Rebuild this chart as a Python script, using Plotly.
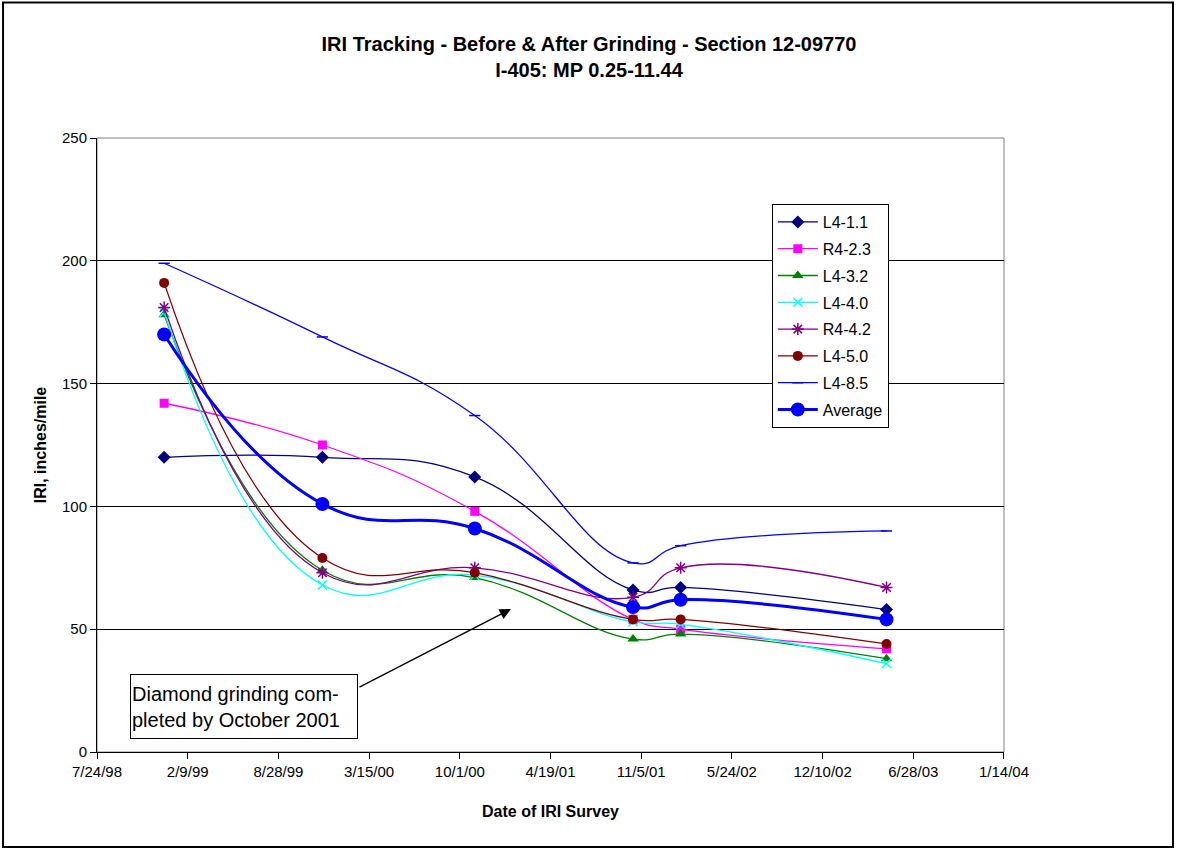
import plotly.graph_objects as go

# survey dates
dates = ["1998-12-19", "1999-12-03", "2000-11-03", "2001-10-18", "2002-01-31", "2003-04-30"]

l4_11 = [120, 120, 112, 66, 67, 58]
r4_23 = [142, 125, 98, 54, 50, 42]
l4_32 = [178, 74, 71, 46, 48, 38]
l4_40 = [179, 68, 72, 53, 52, 36]
r4_42 = [181, 73, 75, 63, 75, 67]
l4_50 = [191, 79, 73, 54, 54, 44]
l4_85 = [199, 169, 137, 77, 84, 90]
average = [170, 101, 91, 59, 62, 54]

series = [
    ("L4-1.1", l4_11, "#000080", "diamond", 10),
    ("R4-2.3", r4_23, "#FF00FF", "square", 9),
    ("L4-3.2", l4_32, "#008000", "triangle-up", 10),
    ("L4-4.0", l4_40, "#00FFFF", "x-thin-open", 9),
    ("R4-4.2", r4_42, "#800080", "asterisk-open", 10),
    ("L4-5.0", l4_50, "#800000", "circle", 10),
    ("L4-8.5", l4_85, "#0000FF", "line-ew-open", 8),
]

FONT = "Liberation Sans, Arial, sans-serif"

fig = go.Figure()

for name, vals, color, sym, size in series:
    open_marker = sym.endswith("-open")
    fig.add_trace(go.Scatter(
        x=dates, y=vals, name=name, legendgroup=name,
        mode="lines+markers",
        line=dict(color=color, width=1.3, shape="spline", smoothing=1.3),
        marker=dict(symbol=sym, size=size, color=color,
                    line=dict(color=color, width=1.5 if open_marker else 0)),
    ))

fig.add_trace(go.Scatter(
    x=dates, y=average, name="Average", legendgroup="Average",
    mode="lines+markers",
    line=dict(color="#0000FF", width=3, shape="spline", smoothing=1.3),
    marker=dict(symbol="circle", size=14, color="#0000FF"),
))

# plot area border (grey) under the axes
fig.add_shape(type="rect", xref="paper", yref="paper", x0=0, x1=1, y0=0, y1=1,
              line=dict(color="#808080", width=1), layer="below")
# chart border
fig.add_shape(type="rect", xref="paper", yref="paper",
              x0=-0.1036, x1=1.1863, y0=-0.1547, y1=1.2207,
              line=dict(color="black", width=2))

# callout box and arrow
fig.add_annotation(
    xref="paper", yref="paper", x=0.0364, y=0.127, xanchor="left", yanchor="top",
    text="Diamond grinding com-<br>pleted by October 2001",
    showarrow=False, align="left", width=224, height=61, borderpad=1,
    bordercolor="black", borderwidth=1, bgcolor="white",
    font=dict(family=FONT, size=20, color="black"),
)
fig.add_annotation(
    xref="paper", yref="paper", x=0.4564, y=0.2329, text="",
    showarrow=True, ax=-153, ay=79, arrowhead=2, arrowsize=1.6, arrowwidth=1.4,
    arrowcolor="black",
)

fig.update_layout(
    width=1178, height=849,
    margin=dict(l=97, r=174, t=138, b=97),
    paper_bgcolor="white", plot_bgcolor="white",
    font=dict(family=FONT, size=15, color="black"),
    title=dict(
        text="<b>IRI Tracking - Before & After Grinding - Section 12-09770<br>I-405: MP 0.25-11.44</b>",
        x=0.5, xanchor="center", y=0.94, yanchor="middle",
        font=dict(family=FONT, size=20, color="black"),
    ),
    showlegend=True,
    legend=dict(
        x=0.744, y=0.8925, xanchor="left", yanchor="top",
        bordercolor="black", borderwidth=1, bgcolor="white",
        font=dict(family=FONT, size=16, color="black"),
        tracegroupgap=3, traceorder="grouped", itemwidth=40,
    ),
    xaxis=dict(
        type="date",
        range=["1998-07-23 23:00", "2004-01-14 01:00"],
        tick0="1998-07-24", dtick=200 * 86400000,
        tickformat="%-m/%-d/%y",
        showgrid=False, zeroline=False,
        showline=True, linecolor="black", linewidth=1,
        ticks="outside", ticklen=6, tickcolor="black",
        tickfont=dict(size=15),
        title=dict(text="<b>Date of IRI Survey</b>", font=dict(size=16), standoff=26),
    ),
    yaxis=dict(
        range=[0, 250], dtick=50,
        showgrid=True, gridcolor="black", gridwidth=1,
        zeroline=False,
        showline=True, linecolor="black", linewidth=1,
        ticks="outside", ticklen=6, tickcolor="black",
        tickfont=dict(size=15),
        title=dict(text="<b>IRI, inches/mile</b>", font=dict(size=16), standoff=11),
    ),
)

# drop the browser's default 8px body margin so the figure sits at the page origin
fig.write_html("out.html", config={"displayModeBar": False},
               post_script="document.body.style.margin='0';")
